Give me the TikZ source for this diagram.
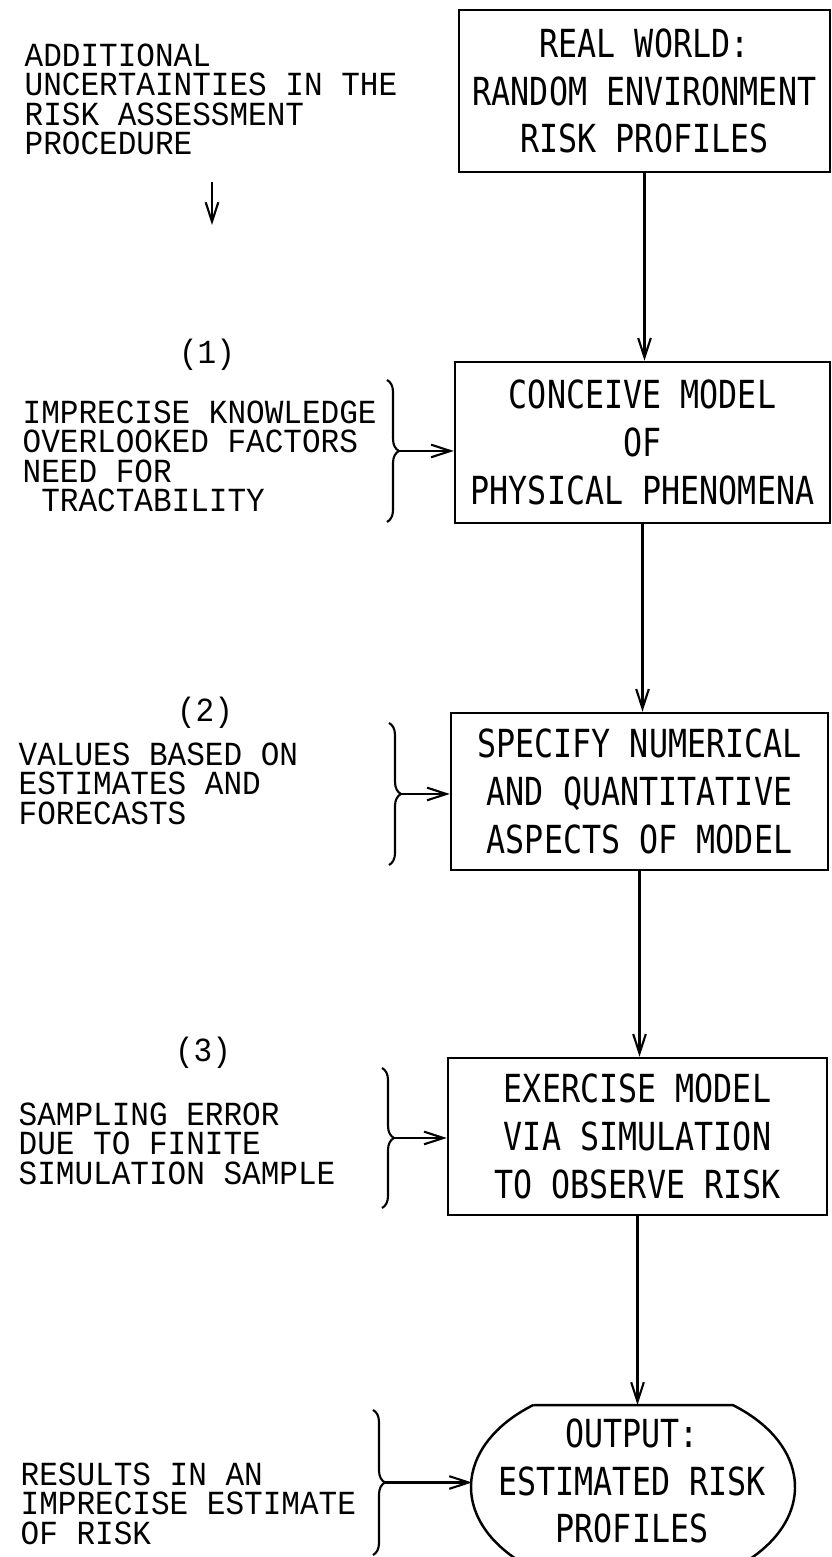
\documentclass[tikz,border=0pt]{standalone}
\usepackage{fontspec}
\usetikzlibrary{arrows.meta,calc,decorations.pathreplacing}
\newfontfamily\boxfont[FakeStretch=0.82]{DejaVu Sans Mono}
\newfontfamily\notefont[FakeStretch=0.92]{Liberation Mono}

\begin{document}
\begin{tikzpicture}[
    stage/.style={rectangle, draw, line width=0.7pt, inner sep=0pt, align=center,
                  font=\boxfont\fontsize{11}{13.6}\selectfont},
    note/.style={inner sep=0pt, anchor=north west, align=left,
                 font=\notefont\fontsize{9.6}{8.4}\selectfont},
    tag/.style={inner sep=0pt, font=\notefont\fontsize{9.6}{8.4}\selectfont},
    flow/.style={line width=0.6pt, -{Straight Barb[length=5.5pt,width=3.6pt]}},
    curly/.style={line width=0.6pt, decorate, decoration={brace, amplitude=0.12cm}},
]
\useasboundingbox (0,0) rectangle (8.32,15.57);

% main chain
\node[stage, minimum width=3.71cm, minimum height=1.62cm] (world) at (6.445,14.66)
    {REAL WORLD:\\RANDOM ENVIRONMENT\\RISK PROFILES};
\node[stage, minimum width=3.75cm, minimum height=1.61cm] (conceive) at (6.425,11.145)
    {CONCEIVE MODEL\\OF\\PHYSICAL PHENOMENA};
\node[stage, minimum width=3.77cm, minimum height=1.57cm] (specify) at (6.395,7.655)
    {SPECIFY NUMERICAL\\AND QUANTITATIVE\\ASPECTS OF MODEL};
\node[stage, minimum width=3.79cm, minimum height=1.57cm] (exercise) at (6.375,4.205)
    {EXERCISE MODEL\\VIA SIMULATION\\TO OBSERVE RISK};
\node[stage, draw=none] (output) at (6.32,0.76) {OUTPUT:\\ESTIMATED RISK\\PROFILES};
\coordinate (ovalc) at (6.33,0.70);
\draw[line width=0.7pt] ($(ovalc)+(128:1.62 and 1.04)$) -- ($(ovalc)+(52:1.62 and 1.04)$)
    arc[start angle=52, end angle=-232, x radius=1.62, y radius=1.04];
\coordinate (ovaltop) at ($(ovalc)+(0,0.82)$);
\coordinate (ovalwest) at ($(ovalc)+(-1.62,0)$);

\draw[flow] (world.south) -- (world.south |- conceive.north);
\draw[flow] (conceive.south) -- (conceive.south |- specify.north);
\draw[flow] (specify.south) -- (specify.south |- exercise.north);
\draw[flow] (exercise.south) -- (exercise.south |- ovaltop);

% uncertainties on the left
\node[note] (extra) at (0.24,15.14) {ADDITIONAL\\UNCERTAINTIES IN THE\\RISK ASSESSMENT\\PROCEDURE};
\coordinate (down0) at (2.12,13.75);
\coordinate (down1) at (2.12,13.32);
\draw[flow] (down0) -- (down1);

\node[tag] (tag1) at (2.07,12.02) {(1)};
\node[note] (src1) at (0.22,11.57) {IMPRECISE KNOWLEDGE\\OVERLOOKED FACTORS\\NEED FOR\\\phantom{X}TRACTABILITY};
\draw[curly] (3.87,11.77) -- (3.87,10.35);
\coordinate (tip1) at (3.99,11.06);
\draw[flow] (tip1) -- (tip1 -| conceive.west);

\node[tag] (tag2) at (2.05,8.44) {(2)};
\node[note] (src2) at (0.18,8.15) {VALUES BASED ON\\ESTIMATES AND\\FORECASTS};
\draw[curly] (3.89,8.34) -- (3.89,6.92);
\coordinate (tip2) at (4.01,7.63);
\draw[flow] (tip2) -- (tip2 -| specify.west);

\node[tag] (tag3) at (2.03,5.04) {(3)};
\node[note] (src3) at (0.18,4.55) {SAMPLING ERROR\\DUE TO FINITE\\SIMULATION SAMPLE};
\draw[curly] (3.82,4.89) -- (3.82,3.49);
\coordinate (tip3) at (3.94,4.19);
\draw[flow] (tip3) -- (tip3 -| exercise.west);

\node[note] (src4) at (0.20,0.95) {RESULTS IN AN\\IMPRECISE ESTIMATE\\OF RISK};
\draw[curly] (3.73,1.47) -- (3.73,0.02);
\coordinate (tip4) at (3.85,0.745);
\draw[flow] (tip4) -- ($(ovalwest |- tip4)+(0.01,0)$);

\end{tikzpicture}
\end{document}
